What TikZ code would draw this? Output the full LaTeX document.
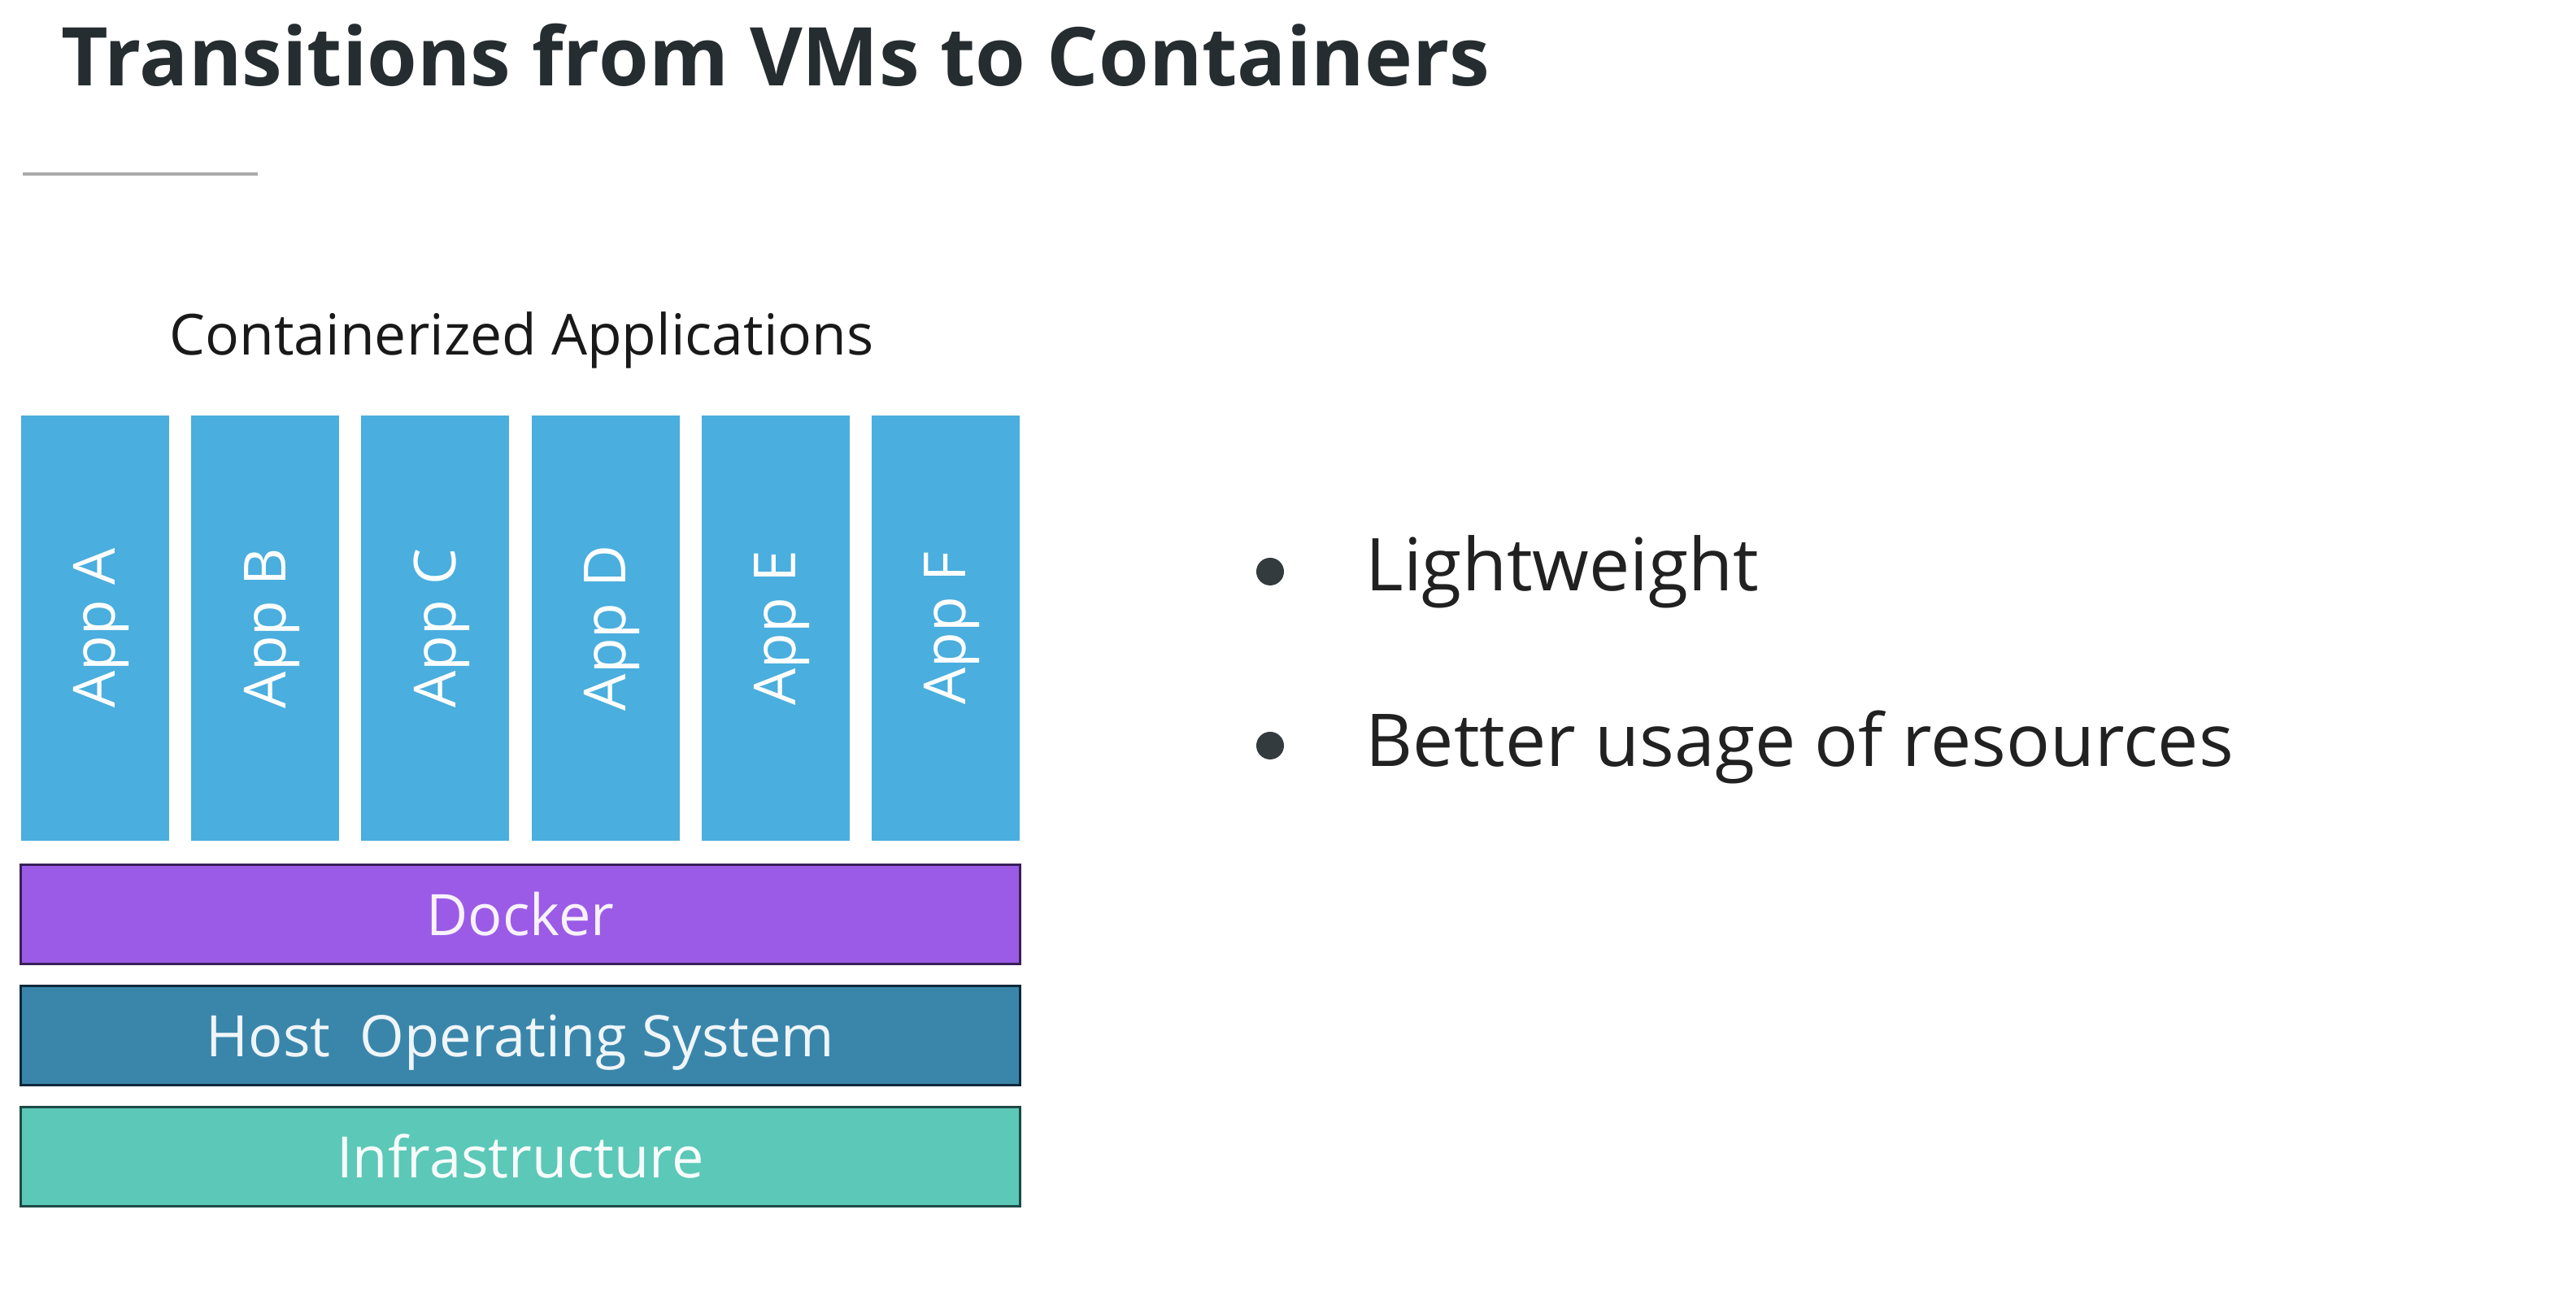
\documentclass[tikz,border=0pt]{standalone}
\usepackage{fontspec}
\setmainfont{Open Sans}
\usetikzlibrary{calc}

\definecolor{titlegray}{HTML}{262D31}
\definecolor{rulegray}{HTML}{AAAAAA}
\definecolor{appblue}{HTML}{4AAEDE}
\definecolor{dockerpurple}{HTML}{9B5BE6}
\definecolor{dockeredge}{HTML}{3A1F5A}
\definecolor{hostblue}{HTML}{3A86AB}
\definecolor{hostedge}{HTML}{10283A}
\definecolor{infragreen}{HTML}{5BC8B8}
\definecolor{infraedge}{HTML}{1E4A44}
\definecolor{dotgray}{HTML}{333B3E}

\tikzset{
	appbox/.style={rotate=90, minimum width=5.23cm, minimum height=1.82cm, inner sep=0pt, text height=0.67cm, fill=appblue, text=white, font=\fontsize{20.3}{24}\selectfont},
	layerbox/.style={minimum width=12.28cm, minimum height=1.22cm, inner sep=0pt, text height=0.52cm, text depth=0pt, line width=0.3mm, text=white, font=\fontsize{20}{24}\selectfont},
	bulletdot/.style={circle, minimum size=0.34cm, inner sep=0pt, fill=dotgray},
	bullettext/.style={anchor=base west, inner sep=0pt, text=black!87, font=\fontsize{25.5}{30}\selectfont}
}

\begin{document}
\begin{tikzpicture}
			%%%%% START %%%%%
			
			\useasboundingbox[fill=white] (0, 0) rectangle (31.68, 16);
			
			\node[anchor=base west, inner sep=0pt, text=titlegray, font=\bfseries\fontsize{28.4}{34}\selectfont] (title) at (0.75, 14.94) {Transitions from VMs to Containers};
			\draw[line width=0.4mm, color=rulegray] (0.28, 13.86) -- (3.17, 13.86);
			
			\node[anchor=base west, inner sep=0pt, text=black!90, font=\fontsize{19.8}{24}\selectfont] (heading) at (2.08, 11.63) {Containerized Applications};
			
			\node[appbox] (appA) at (1.17, 8.275) {App A};
			\node[appbox] (appB) at (3.262, 8.275) {App B};
			\node[appbox] (appC) at (5.354, 8.275) {App C};
			\node[appbox] (appD) at (7.446, 8.275) {App D};
			\node[appbox] (appE) at (9.538, 8.275) {App E};
			\node[appbox] (appF) at (11.63, 8.275) {App F};
			
			\node[layerbox, draw=dockeredge, fill=dockerpurple, text=white!92!dockerpurple] (docker) at (6.40, 4.75) {Docker};
			\node[layerbox, draw=hostedge, fill=hostblue, text=white!92!hostblue] (host) at (6.40, 3.26) {Host\ \ Operating System};
			\node[layerbox, draw=infraedge, fill=infragreen, text=white!95!infragreen] (infra) at (6.40, 1.77) {Infrastructure};
			
			\node[bulletdot] (dotA) at (15.62, 8.97) {};
			\node[bullettext] (light) at (16.79, 8.73) {Lightweight};
			\node[bulletdot] (dotB) at (15.62, 6.83) {};
			\node[bullettext] (usage) at (16.79, 6.57) {Better usage of resources};
			
			%%%%% END %%%%%
\end{tikzpicture}
\end{document}
